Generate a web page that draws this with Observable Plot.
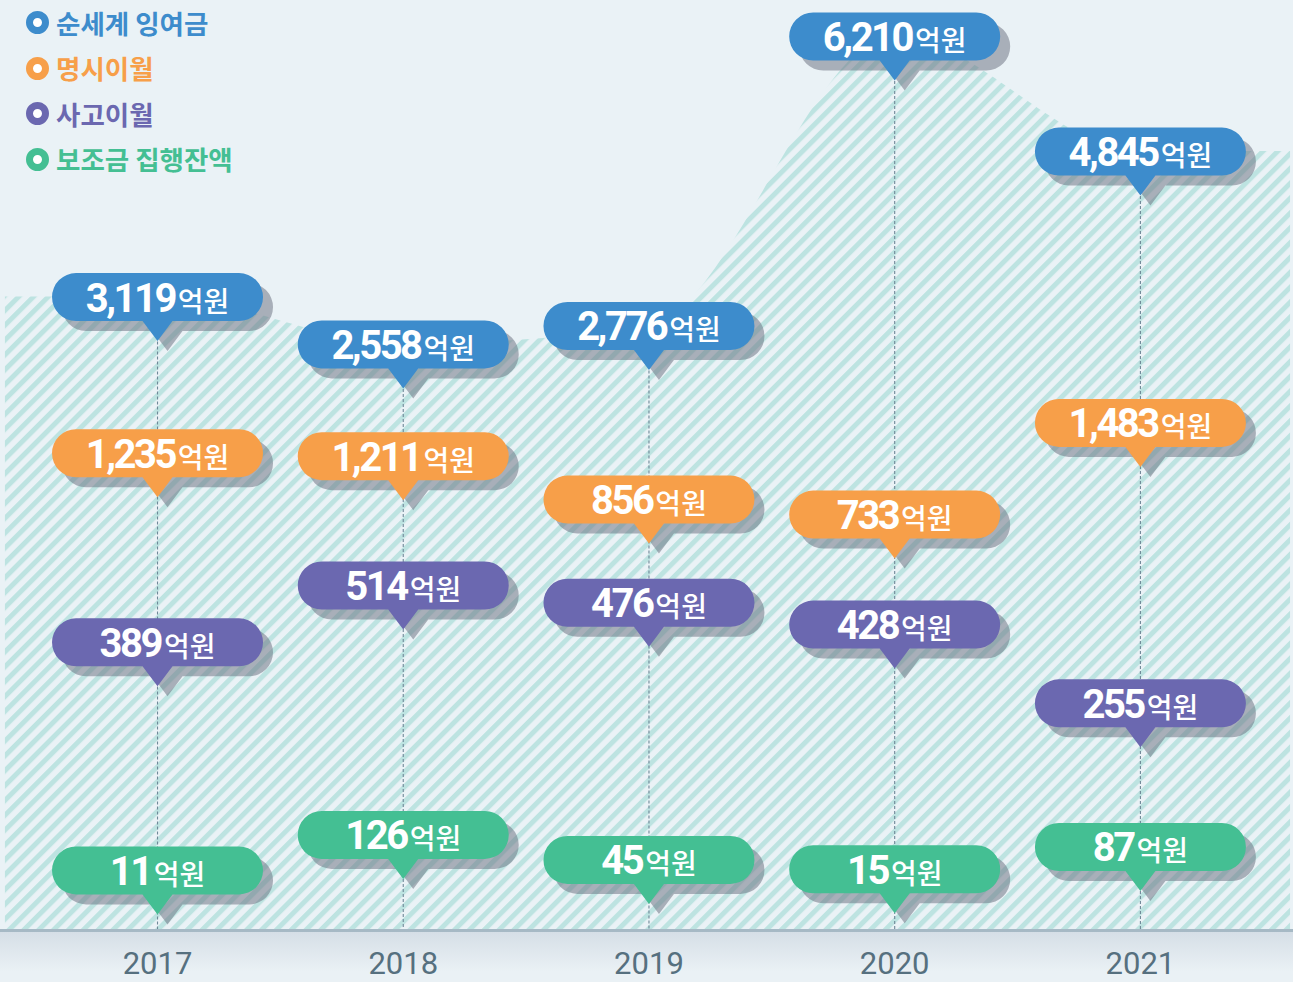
<!DOCTYPE html>
<html>
<head>
<meta charset="utf-8">
<script src="https://cdn.jsdelivr.net/npm/d3@7"></script>
<script src="https://cdn.jsdelivr.net/npm/@observablehq/plot@0.6"></script>
<style>
  html, body { margin: 0; padding: 0; background: #eaf2f6; }
  #wrap {
    position: relative; width: 1293px; height: 982px; overflow: hidden;
    background: linear-gradient(to bottom, #eaf2f6 0px, #eaf2f6 931px, #d5dee6 931px, #eaf1f5 972px);
  }
  #chart svg { display: block; }
  #legend { position: absolute; left: 26px; top: 0px; font-family: "Noto Sans CJK KR", sans-serif; font-weight: 700; font-size: 26.5px; }
  #legend .item { display: flex; align-items: center; height: 45.5px; line-height: 1; }
  #legend .ring { display: inline-block; width: 23px; height: 23px; border-radius: 50%; box-sizing: border-box; border-width: 7px; border-style: solid; background: #fff; margin-right: 7px; }
</style>
</head>
<body>
<div id="wrap">
  <div id="chart"></div>
  <div id="legend"></div>
</div>
<script>
// ---- data (억원) ----
const years = [2017, 2018, 2019, 2020, 2021];
const yearLabels = ["2017", "2018", "2019", "2020", "2021"];
const seriesNames = ["순세계 잉여금", "명시이월", "사고이월", "보조금 집행잔액"];
const seriesColors = ["#3d8ccc", "#f79f49", "#6b68b0", "#44bf93"];
const surplus   = [3119, 2558, 2776, 6210, 4845]; // 순세계 잉여금
const carryover = [1235, 1211, 856, 733, 1483];   // 명시이월
const accident  = [389, 514, 476, 428, 255];      // 사고이월
const subsidy   = [11, 126, 45, 15, 87];          // 보조금 집행잔액

// ---- layout ----
const W = 1293, H = 982, MB = 52;
const yDomain = [-4394, 6637];              // 순세계 잉여금 scale (hidden axis)
const xDomain = [2016.361, 2021.623];
const yPx = d3.scaleLinear(yDomain, [H - MB, 0]); // only used to invert lane pixels

// each smaller series sits in its own lane: centre pixel + px per 억원
const lanes = [
  null,
  {center: 468.8, mean: 1103.6, k: 0.1223},
  {center: 631.2, mean: 412.4, k: 0.455},
  {center: 855.8, mean: 56.8, k: 0.3087}
];
const seriesValues = [surplus, carryover, accident, subsidy];

const bubbles = [];
seriesValues.forEach((vals, s) => {
  vals.forEach((v, i) => {
    const yv = s === 0 ? v : yPx.invert(lanes[s].center - lanes[s].k * (v - lanes[s].mean));
    bubbles.push({year: years[i], value: v, y: yv, series: seriesNames[s], color: seriesColors[s]});
  });
});

const areaData = [
  {year: xDomain[0] + 0.02, value: surplus[0]},
  ...years.map((y, i) => ({year: y, value: surplus[i]})),
  {year: xDomain[1] - 0.012, value: surplus[surplus.length - 1]}
];

// callout symbol: pill + pointer, centred on the point
const BW = 211, BH = 48, R = 24, TW = 15, TH = 44;
const callout = {
  draw(ctx) {
    const x0 = -BW / 2, x1 = BW / 2, y0 = -BH / 2, y1 = BH / 2;
    ctx.moveTo(x0 + R, y0);
    ctx.lineTo(x1 - R, y0);
    ctx.arcTo(x1, y0, x1, y0 + R, R);
    ctx.arcTo(x1, y1, x1 - R, y1, R);
    ctx.lineTo(TW, y1);
    ctx.lineTo(0, TH);
    ctx.lineTo(-TW, y1);
    ctx.lineTo(x0 + R, y1);
    ctx.arcTo(x0, y1, x0, y1 - R, R);
    ctx.arcTo(x0, y0, x0 + R, y0, R);
    ctx.closePath();
  }
};

const fmt = d3.format(",");

const plot = Plot.plot({
  width: W, height: H,
  marginTop: 0, marginBottom: MB, marginLeft: 0, marginRight: 0,
  style: {background: "transparent", overflow: "visible"},
  x: {type: "linear", domain: xDomain, axis: null},
  y: {domain: yDomain, axis: null},
  marks: [
    Plot.areaY(areaData, {x: "year", y1: yDomain[0], y2: "value", curve: "monotone-x", fill: "url(#hatch)"}),
    Plot.ruleX(years.map((y, i) => ({year: y, value: surplus[i]})), {
      x: "year", y1: "value", y2: yDomain[0], stroke: "#6f8898", strokeWidth: 1.1, strokeDasharray: "3,2"
    }),
    Plot.ruleY([yDomain[0]], {stroke: "#a6b9c5", strokeWidth: 3}),
    Plot.dot(bubbles, {x: "year", y: "y", symbol: callout, fill: "#6c7280", fillOpacity: 0.52, dx: 10, dy: 10}),
    Plot.dot(bubbles, {x: "year", y: "y", symbol: callout, fill: "color"}),
    Plot.text(bubbles, {
      x: "year", y: "y", text: d => `${fmt(d.value)}억원`,
      fill: "white", fontSize: 39, fontWeight: 700, fontFamily: "Roboto, sans-serif",
      textAnchor: "middle", dy: 2
    }),
    Plot.text(years.map((y, i) => ({year: y, label: yearLabels[i]})), {
      x: "year", y: () => yDomain[0], text: "label", dy: 34,
      fontSize: 31, fill: "#56707f", fontFamily: "Roboto, sans-serif", textAnchor: "middle"
    })
  ]
});

// hatch pattern
const ns = "http://www.w3.org/2000/svg";
const defs = document.createElementNS(ns, "defs");
defs.innerHTML = `<pattern id="hatch" patternUnits="userSpaceOnUse" width="40" height="10.5" patternTransform="rotate(-45)">
  <rect x="0" y="0" width="40" height="5" fill="#bde3e1"></rect></pattern>`;
plot.insertBefore(defs, plot.firstChild);

// split "number억원" into two differently styled runs
plot.querySelectorAll("text").forEach(t => {
  const s = t.textContent;
  if (!s.endsWith("억원")) return;
  const num = s.slice(0, -2);
  t.textContent = "";
  const a = document.createElementNS(ns, "tspan");
  a.textContent = num;
  a.setAttribute("style", "font-family: Roboto, sans-serif; font-weight: 700; font-size: 40px; letter-spacing: -2.5px;");
  const b = document.createElementNS(ns, "tspan");
  b.textContent = "억원";
  b.setAttribute("dx", "3");
  b.setAttribute("style", "font-family: 'Noto Sans CJK KR', sans-serif; font-weight: 500; font-size: 28px;");
  t.appendChild(a); t.appendChild(b);
});

document.getElementById("chart").appendChild(plot);

// legend
const lg = document.getElementById("legend");
seriesNames.forEach((n, i) => {
  const it = document.createElement("div");
  it.className = "item";
  it.style.color = seriesColors[i];
  const r = document.createElement("span");
  r.className = "ring";
  r.style.borderColor = seriesColors[i];
  it.appendChild(r);
  it.appendChild(document.createTextNode(n));
  lg.appendChild(it);
});
</script>
</body>
</html>
